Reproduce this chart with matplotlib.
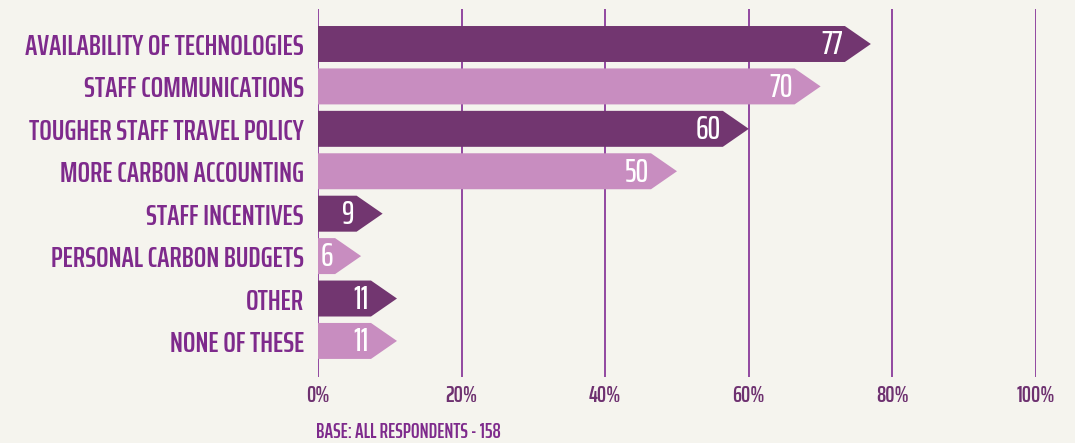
import matplotlib
matplotlib.use('Agg')
import matplotlib.pyplot as plt
from matplotlib.patches import Polygon

# data
categories = ['AVAILABILITY OF TECHNOLOGIES', 'STAFF COMMUNICATIONS',
              'TOUGHER STAFF TRAVEL POLICY', 'MORE CARBON ACCOUNTING',
              'STAFF INCENTIVES', 'PERSONAL CARBON BUDGETS', 'OTHER',
              'NONE OF THESE']
values = [77, 70, 60, 50, 9, 6, 11, 11]
xticks = [0, 20, 40, 60, 80, 100]
xtick_labels = ['0%', '20%', '40%', '60%', '80%', '100%']
base_note = 'BASE: ALL RESPONDENTS - 158'

bg = '#F5F4EE'
dark = '#723670'
light = '#C88DC0'
label_col = '#7E2A8C'
grid_col = '#8A3A9A'
tick_col = '#6E3170'
font = 'Saira ExtraCondensed'

fig = plt.figure(figsize=(10.75, 4.43), dpi=100, facecolor=bg)
ax = fig.add_axes([318 / 1075, 1 - 377 / 443, 718 / 1075, 368 / 443])
ax.set_facecolor(bg)
ax.set_xlim(0, 100)
ax.set_ylim(7.85, -0.825)

h = 0.848    # bar height in row units
head = 3.62  # arrow head length in %

for x in xticks:
    ax.axvline(x, color=grid_col, lw=1.3, zorder=0)

for i, v in enumerate(values):
    col = dark if i % 2 == 0 else light
    pts = [(0, i - h / 2), (v - head, i - h / 2), (v, i),
           (v - head, i + h / 2), (0, i + h / 2)]
    ax.add_patch(Polygon(pts, closed=True, facecolor=col, edgecolor='none', zorder=2))
    ax.text(v - head - 0.25, i + 0.03, str(v), ha='right', va='center', color='white',
            fontsize=23, fontweight='medium', family=font, zorder=3)

ax.set_yticks(range(len(categories)))
ax.set_yticklabels(categories, family=font, fontweight='semibold', fontsize=21.3, color=label_col)
ax.set_xticks(xticks)
ax.set_xticklabels(xtick_labels, family=font, fontweight='semibold', fontsize=16.5, color=tick_col)
ax.tick_params(axis='y', length=0, pad=10)
ax.tick_params(axis='x', length=0, pad=6)
for s in ax.spines.values():
    s.set_visible(False)

fig.text(316 / 1075, 1 - 432 / 443, base_note, ha='left', va='center', family=font,
         fontweight='semibold', fontsize=14.8, color=label_col)

fig.savefig('out.png', dpi=100, facecolor=bg)
